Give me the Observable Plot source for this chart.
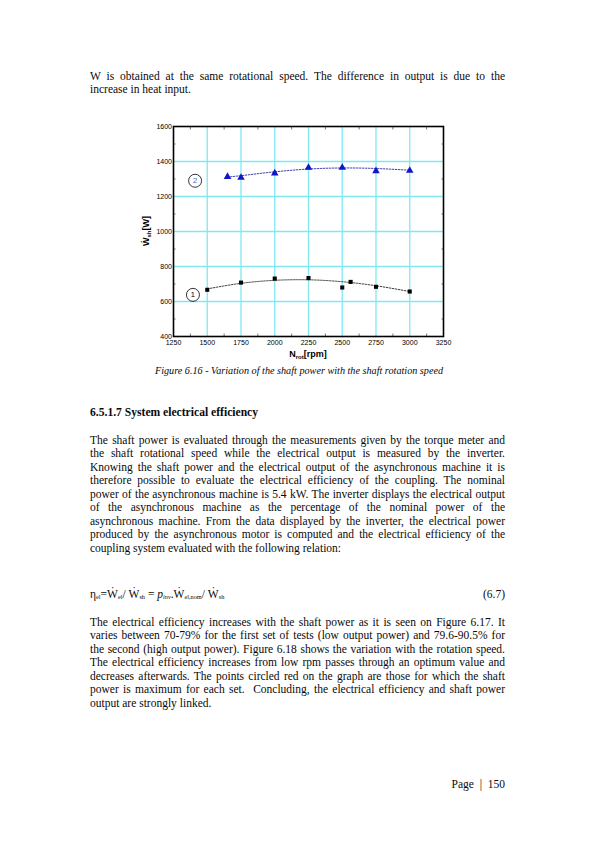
<!DOCTYPE html>
<html>
<head>
<meta charset="utf-8">
<script src="https://cdn.jsdelivr.net/npm/d3@7"></script>
<script src="https://cdn.jsdelivr.net/npm/@observablehq/plot@0.6"></script>
<style>
  html, body { margin: 0; padding: 0; background: #fff; }
  #page { position: relative; width: 595px; height: 842px; overflow: hidden; font-family: "Liberation Serif", "DejaVu Serif", serif; color: #0a0a0a; }
  .blk { position: absolute; left: 90px; width: 415px; font-size: 11.5px; line-height: 13.45px; }
  .ln { white-space: nowrap; }
  .j { text-align: justify; text-align-last: justify; white-space: normal; }
  #chart { position: absolute; left: 120px; top: 115px; }
  #caption { position: absolute; left: 0; width: 598px; top: 365px; text-align: center; font-style: italic; font-size: 10.2px; }
  #heading { position: absolute; left: 90px; top: 406px; font-weight: bold; font-size: 11.6px; }
  sub { font-size: 6.3px; vertical-align: -1px; line-height: 0; }
</style>
</head>
<body>
<div id="page">
  <div class="blk" style="top:70px">
    <div class="j">W is obtained at the same rotational speed. The difference in output is due to the</div>
    <div class="ln">increase in heat input.</div>
  </div>
  <div id="chart"></div>
  <div id="caption">Figure 6.16 - Variation of the shaft power with the shaft rotation speed</div>
  <div id="heading">6.5.1.7 System electrical efficiency</div>
  <div class="blk" style="top:434px">
    <div class="j">The shaft power is evaluated through the measurements given by the torque meter and</div>
    <div class="j">the shaft rotational speed while the electrical output is measured by the inverter.</div>
    <div class="j">Knowing the shaft power and the electrical output of the asynchronous machine it is</div>
    <div class="j">therefore possible to evaluate the electrical efficiency of the coupling. The nominal</div>
    <div class="j">power of the asynchronous machine is 5.4 kW. The inverter displays the electrical output</div>
    <div class="j">of the asynchronous machine as the percentage of the nominal power of the</div>
    <div class="j">asynchronous machine. From the data displayed by the inverter, the electrical power</div>
    <div class="j">produced by the asynchronous motor is computed and the electrical efficiency of the</div>
    <div class="ln">coupling system evaluated with the following relation:</div>
  </div>
  <div class="blk" style="top:588px">
    <span>η<sub>el</sub>=Ẇ<sub>el</sub>/ Ẇ<sub>sh</sub> = <i>p</i><sub><i>inv</i></sub>.Ẇ<sub>el,nom</sub>/ Ẇ<sub>sh</sub></span>
    <span style="position:absolute; right:0; top:0">(6.7)</span>
  </div>
  <div class="blk" style="top:616px">
    <div class="j">The electrical efficiency increases with the shaft power as it is seen on Figure 6.17. It</div>
    <div class="j">varies between 70-79% for the first set of tests (low output power) and 79.6-90.5% for</div>
    <div class="j">the second (high output power). Figure 6.18 shows the variation with the rotation speed.</div>
    <div class="j">The electrical efficiency increases from low rpm passes through an optimum value and</div>
    <div class="j">decreases afterwards. The points circled red on the graph are those for which the shaft</div>
    <div class="j">power is maximum for each set.&nbsp; Concluding, the electrical efficiency and shaft power</div>
    <div class="ln">output are strongly linked.</div>
  </div>
  <div class="blk" style="top:778px; text-align:right">Page&nbsp; |&nbsp; 150</div>
</div>
<script>
// keep each justified line on one line
document.querySelectorAll(".j").forEach(el => {
  let ls = 0;
  while (el.getBoundingClientRect().height > 20 && ls > -1.5) {
    ls -= 0.05;
    el.style.letterSpacing = ls + "px";
  }
});

// ---- data ----
const xTicks = [1250, 1500, 1750, 2000, 2250, 2500, 2750, 3000, 3250];
const yTicks = [400, 600, 800, 1000, 1200, 1400, 1600];
const xGrid = [1500, 1750, 2000, 2250, 2500, 2750, 3000];
const yGrid = [600, 800, 1000, 1200, 1400];
const xMinor = [1375, 1625, 1875, 2125, 2375, 2625, 2875, 3125];
const yMinor = [500, 700, 900, 1100, 1300, 1500];

// set 1 (low output power) - squares
const rpm1 = [1500, 1750, 2000, 2250, 2500, 2562, 2750, 3000];
const power1 = [667, 708, 731, 734, 680, 712, 684, 657];
// set 2 (high output power) - triangles
const rpm2 = [1650, 1750, 2000, 2250, 2500, 2750, 3000];
const power2 = [1313, 1308, 1333, 1365, 1365, 1346, 1348];
// fitted trend curves
const fitRpm1 = [1500, 1750, 2000, 2250, 2500, 2750, 3000];
const fitPow1 = [672, 704, 721, 724, 713, 690, 657];
const fitRpm2 = [1650, 1750, 2000, 2250, 2500, 2750, 3000];
const fitPow2 = [1311, 1319, 1341, 1357, 1363, 1360, 1350];
// set labels (circled numbers)
const setLabels = ["1", "2"];
const setLabelX = [1394, 1410];
const setLabelY = [638, 1290];

const pts1 = rpm1.map((x, i) => ({x, y: power1[i]}));
const pts2 = rpm2.map((x, i) => ({x, y: power2[i]}));
const fit1 = fitRpm1.map((x, i) => ({x, y: fitPow1[i]}));
const fit2 = fitRpm2.map((x, i) => ({x, y: fitPow2[i]}));
const labs = setLabels.map((t, i) => ({t, x: setLabelX[i], y: setLabelY[i]}));

const gridColor = "#7fe9f1";

const chart = Plot.plot({
  width: 350,
  height: 250,
  marginLeft: 53,
  marginRight: 27,
  marginTop: 11,
  marginBottom: 29,
  style: {fontFamily: "Liberation Sans, Arial, sans-serif", fontSize: "7px", color: "#000", background: "transparent", overflow: "visible"},
  x: {domain: [1250, 3250]},
  y: {domain: [400, 1600]},
  marks: [
    Plot.ruleX(xGrid, {stroke: gridColor, strokeWidth: 1.3}),
    Plot.ruleY(yGrid, {stroke: gridColor, strokeWidth: 1.3}),
    Plot.axisX({ticks: xTicks, tickSize: 0, tickPadding: 4, tickFormat: d => String(d), label: null}),
    Plot.axisY({ticks: yTicks, tickSize: 0, tickPadding: 1.5, tickFormat: d => String(d), label: null}),
    Plot.axisX({anchor: "top", ticks: xMinor, tickSize: -2.5, tickFormat: () => "", label: null, stroke: "#777"}),
    Plot.axisX({anchor: "bottom", ticks: xMinor, tickSize: -2.5, tickFormat: () => "", label: null, stroke: "#777"}),
    Plot.axisY({anchor: "left", ticks: yMinor, tickSize: -2.5, tickFormat: () => "", label: null, stroke: "#777"}),
    Plot.axisY({anchor: "right", ticks: yMinor, tickSize: -2.5, tickFormat: () => "", label: null, stroke: "#777"}),
    Plot.line(fit1, {x: "x", y: "y", curve: "catmull-rom", stroke: "#222", strokeWidth: 0.9, strokeDasharray: "1.6,1.4"}),
    Plot.line(fit2, {x: "x", y: "y", curve: "catmull-rom", stroke: "#2a2aa8", strokeWidth: 0.9, strokeDasharray: "1.6,1.4"}),
    Plot.dot(pts1, {x: "x", y: "y", symbol: "square", r: 2.3, fill: "#000", stroke: "none"}),
    Plot.dot(pts2, {x: "x", y: "y", symbol: "triangle", r: 2.8, fill: "#1515c8", stroke: "none"}),
    Plot.dot(labs, {x: "x", y: "y", r: 6.5, fill: "none", stroke: "#000", strokeWidth: 0.8}),
    Plot.text(labs, {x: "x", y: "y", text: "t", fontSize: 7.5, fill: d => d.t === "2" ? "#5a5ad0" : "#000"}),
    Plot.frame({stroke: "#000", strokeWidth: 1.6})
  ]
});

document.getElementById("chart").appendChild(chart);

// axis titles with subscripts, positioned through the chart's scales
const sx = chart.scale("x"), sy = chart.scale("y");
const svg = d3.select(chart);
const cx = sx.apply(2250);
const xl = svg.append("text")
  .attr("x", cx).attr("y", 242)
  .attr("text-anchor", "middle")
  .attr("font-family", "Liberation Sans, Arial, sans-serif")
  .attr("font-weight", "bold").attr("font-size", 9).attr("fill", "#000");
xl.append("tspan").text("N");
xl.append("tspan").attr("font-size", 6).attr("dy", 2).text("rot");
xl.append("tspan").attr("dy", -2).text("[rpm]");

const cy = sy.apply(1000);
const yl = svg.append("text")
  .attr("transform", `translate(29,${cy}) rotate(-90)`)
  .attr("text-anchor", "middle")
  .attr("font-family", "Liberation Sans, Arial, sans-serif")
  .attr("font-weight", "bold").attr("font-size", 9).attr("fill", "#000");
yl.append("tspan").text("Ẇ");
yl.append("tspan").attr("font-size", 6).attr("dy", 2).text("sh");
yl.append("tspan").attr("dy", -2).text("[W]");
</script>
</body>
</html>
